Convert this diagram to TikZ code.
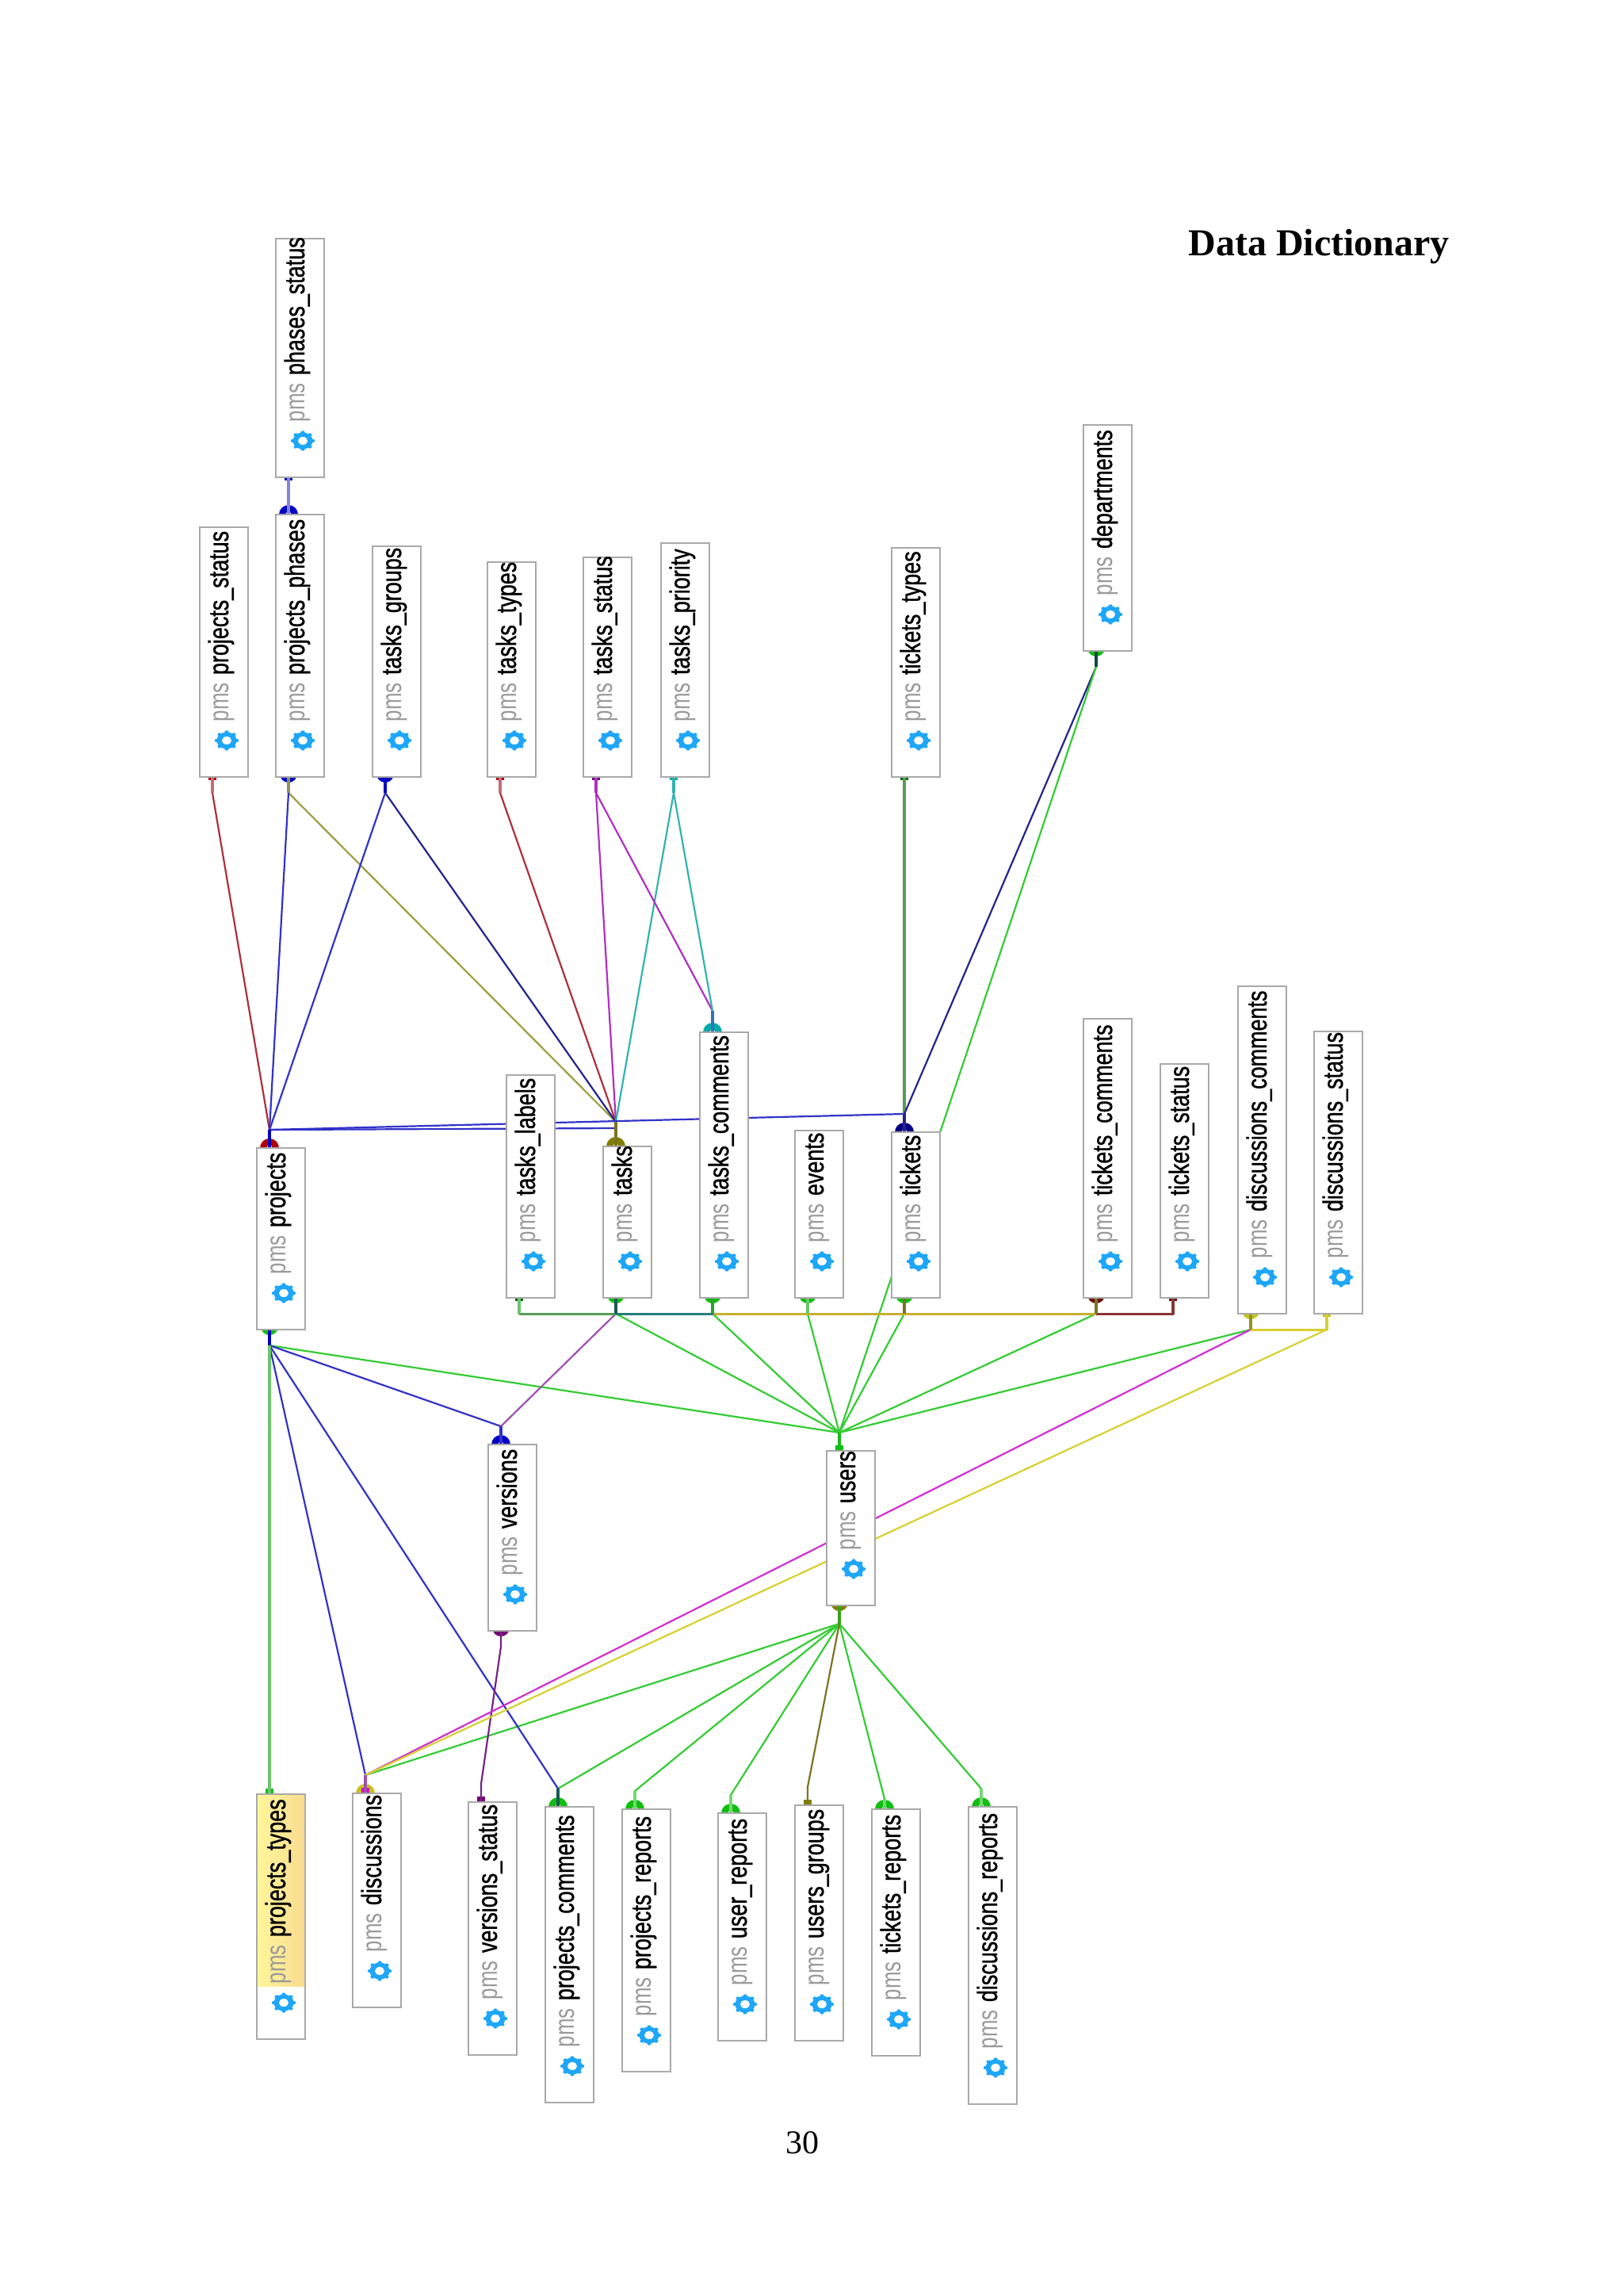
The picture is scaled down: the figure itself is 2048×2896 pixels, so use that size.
\documentclass[tikz,border=0pt]{standalone}
\usepackage{fontspec}
\usetikzlibrary{backgrounds}
\newfontfamily\tblpms[FakeStretch=0.74]{Liberation Sans}
\newfontfamily\tblname[FakeStretch=0.77,FakeBold=1]{Liberation Sans}
\newfontfamily\pageserif{Liberation Serif}

\definecolor{boxgray}{HTML}{A9A9A9}
\definecolor{pmsgray}{HTML}{9A9A9A}
\definecolor{gearblue}{HTML}{1EA6F8}
\definecolor{wgreen}{HTML}{33CC33}
\definecolor{wpale}{HTML}{6CC46C}
\definecolor{wblue}{HTML}{3232C8}
\definecolor{wnavy}{HTML}{24248C}
\definecolor{wred}{HTML}{AE2F3C}
\definecolor{wolive}{HTML}{9AA040}
\definecolor{wmag}{HTML}{B030C0}
\definecolor{wteal}{HTML}{30B4B0}
\definecolor{wbrown}{HTML}{8A3434}
\definecolor{wpurple}{HTML}{A050B0}
\definecolor{wdpurple}{HTML}{742484}
\definecolor{wpink}{HTML}{D030D0}
\definecolor{wyellow}{HTML}{D8D030}
\definecolor{wmustard}{HTML}{C8B030}
\definecolor{wkhaki}{HTML}{7C7420}
% the round ends are purer than the lines
\definecolor{dgreen}{HTML}{12BE12}
\definecolor{dblue}{HTML}{0000C4}
\definecolor{dnavy}{HTML}{000080}
\definecolor{dred}{HTML}{B00000}
\definecolor{dolive}{HTML}{808000}
\definecolor{dteal}{HTML}{00AAAA}
\definecolor{dmaroon}{HTML}{6E0E0E}
\definecolor{dyellow}{HTML}{C4C41C}
\definecolor{dpurple}{HTML}{740074}
\definecolor{dpink}{HTML}{E000C8}
\definecolor{typesleft}{HTML}{FFF59A}
\definecolor{typesright}{HTML}{F9DC90}

\tikzset{
  tablebox/.style={draw=boxgray, line width=2.2pt, fill=white, inner sep=0pt, outer sep=0pt, minimum width=61pt, anchor=north west, xshift=1pt},
  tablelabel/.style={rotate=90, anchor=base west, inner sep=0pt, outer sep=0pt, font=\fontsize{35}{40}\selectfont},
  wire/.style={line width=2.2pt, line join=round},
  wirefat/.style={line width=4pt},
  gearicon/.pic={
    \fill[gearblue] (0,0) circle (10.5pt);
    \foreach \a in {0,45,...,315} \fill[gearblue] (\a:10.5pt) circle (2.2pt);
    \fill[white] (0,0) circle (5pt);
  },
  dottop/.pic={\fill (0,0) circle (12pt); \fill[white] (0,0) circle (3.5pt);},
  dotbot/.pic={\fill (0,4pt) circle (11pt);},
  ticktop/.pic={\fill (-5pt,0) rectangle (5pt,7pt);},
  tickbot/.pic={\fill (-5pt,0) rectangle (5pt,-3.5pt);},
}

% box and its four ports
\newcommand{\dbbox}[4]{
  \node[tablebox, minimum height=#4pt-#3pt] (#1) at (#2,#3) {};
  \coordinate (#1-t) at ([xshift=16pt]#1.north west);
  \coordinate (#1-tj) at ([xshift=16pt,yshift=23pt]#1.north west);
  \coordinate (#1-b) at ([xshift=16pt]#1.south west);
  \coordinate (#1-bj) at ([xshift=16pt,yshift=-20pt]#1.south west);
}
\newcommand{\dblabel}[2]{
  \pic[xscale=1.2] at ([xshift=34pt,yshift=46pt]#1.south west) {gearicon};
  \node[tablelabel] (#1-label) at ([xshift=36pt,yshift=70pt]#1.south west) {{\tblpms\color{pmsgray}pms}\hspace{10pt}{\tblname #2}};
}
\newcommand{\dbtable}[5]{\dbbox{#1}{#2}{#3}{#4}\dblabel{#1}{#5}}
\newcommand{\link}[3]{\draw[wire,#1] (#2) -- (#2j) -- (#3j) -- (#3);}

\begin{document}
\begin{tikzpicture}[x=1pt,y=-1pt]
  \useasboundingbox (0,0) rectangle (2048,2896);

  \node[font=\pageserif\bfseries\fontsize{48}{54}\selectfont, inner sep=0pt] (title) at (1664,311) {Data Dictionary};
  \node[font=\pageserif\fontsize{42}{48}\selectfont, inner sep=0pt] (pageno) at (1012,2703) {30};

  % top row
  \dbtable{phases_status}{347}{301}{602}{phases\_status}
  \dbtable{projects_status}{251}{665}{980}{projects\_status}
  \dbtable{projects_phases}{347}{649}{980}{projects\_phases}
  \dbtable{tasks_groups}{469}{689}{980}{tasks\_groups}
  \dbtable{tasks_types}{614}{709}{980}{tasks\_types}
  \dbtable{tasks_status}{735}{703}{980}{tasks\_status}
  \dbtable{tasks_priority}{833}{685}{980}{tasks\_priority}
  \dbtable{tickets_types}{1124}{691}{980}{tickets\_types}
  \dbtable{departments}{1366}{536}{821}{departments}
  % middle row
  \dbtable{projects}{323}{1448}{1677}{projects}
  \dbtable{tasks_labels}{638}{1356}{1637}{tasks\_labels}
  \dbtable{tasks}{760}{1446}{1637}{tasks}
  \dbtable{tasks_comments}{882}{1302}{1637}{tasks\_comments}
  \dbtable{events}{1002}{1426}{1637}{events}
  \dbtable{tickets}{1124}{1428}{1637}{tickets}
  \dbtable{tickets_comments}{1366}{1285}{1637}{tickets\_comments}
  \dbtable{tickets_status}{1463}{1342}{1637}{tickets\_status}
  \dbtable{discussions_comments}{1561}{1244}{1657}{discussions\_comments}
  \dbtable{discussions_status}{1657}{1301}{1657}{discussions\_status}
  \dbtable{versions}{615}{1822}{2057}{versions}
  \dbtable{users}{1042}{1830}{2025}{users}
  % bottom row
  \dbbox{projects_types}{323}{2263}{2572}
  \shade[left color=typesleft, right color=typesright] (325,2264) rectangle (384,2505);
  \dblabel{projects_types}{projects\_types}
  \dbtable{discussions}{444}{2262}{2532}{discussions}
  \dbtable{versions_status}{590}{2273}{2592}{versions\_status}
  \dbtable{projects_comments}{687}{2279}{2652}{projects\_comments}
  \dbtable{projects_reports}{784}{2282}{2613}{projects\_reports}
  \dbtable{user_reports}{905}{2287}{2574}{user\_reports}
  \dbtable{users_groups}{1002}{2277}{2574}{users\_groups}
  \dbtable{tickets_reports}{1099}{2282}{2593}{tickets\_reports}
  \dbtable{discussions_reports}{1221}{2279}{2654}{discussions\_reports}

  % stubs that differ
  \coordinate (tasks-tj) at ([yshift=31pt]tasks-t);
  \coordinate (tasks-tk) at ([yshift=23pt]tasks-t);
  \coordinate (tasks_comments-tj) at ([yshift=27pt]tasks_comments-t);
  \coordinate (tickets_reports-tj) at ([yshift=13pt]tickets_reports-t);
  \coordinate (users-bj) at ([yshift=-23pt]users-b);

  \begin{scope}[on background layer]
    % ends on the boxes
    \foreach \p/\c in {projects_phases/dblue, projects/dred, tasks/dolive, tasks_comments/dteal, tickets/dnavy, versions/dblue, discussions/dyellow, projects_comments/dgreen, projects_reports/dgreen, user_reports/dgreen, tickets_reports/dgreen, discussions_reports/dgreen}
      {\pic[color=\c] at (\p-t) {dottop};}
    \foreach \p/\c in {projects_phases/dblue, tasks_groups/dblue, departments/dgreen, tasks/dgreen, tasks_comments/dgreen, events/dgreen, tickets/dgreen, tickets_comments/dmaroon, discussions_comments/dyellow, projects/dgreen, users/dolive, versions/dpurple}
      {\pic[color=\c] at (\p-b) {dotbot};}
    \foreach \p/\c in {phases_status/dblue, projects_status/dred, tasks_types/dred, tasks_status/dpurple, tasks_priority/dteal, tickets_types/green!40!black, tasks_labels/green!40!black, tickets_status/dmaroon, discussions_status/dyellow}
      {\pic[color=\c] at (\p-b) {tickbot};}
    \foreach \p/\c in {projects_types/dgreen, versions_status/dpurple, users_groups/dolive, discussions/dpink, users/dgreen}
      {\pic[color=\c] at (\p-t) {ticktop};}

    % upper half
    \draw[wire,wblue!60,wirefat] (phases_status-b) -- (projects_phases-t);
    \link{wred}{projects_status-b}{projects-t}
    \link{wred}{tasks_types-b}{tasks-t}
    \link{wolive}{projects_phases-b}{tasks-t}
    \link{wnavy}{tasks_groups-b}{tasks-t}
    \foreach \from in {projects_phases,tasks_groups} {\link{wblue}{\from-b}{projects-t}}
    \foreach \to in {tasks-t,tasks_comments-t} {
      \link{wmag}{tasks_status-b}{\to}
      \link{wteal}{tasks_priority-b}{\to}
    }
    \draw[wire,wblue] (projects-t) -- (projects-tj) -- (tasks-tk) -- (tasks-t);
    \link{wblue}{projects-t}{tickets-t}
    \draw[wire,wpale!80!black,wirefat] (tickets_types-b) -- (tickets-t);
    \link{wnavy}{departments-b}{tickets-t}

    % many to users
    \foreach \from in {departments,projects,tasks,tasks_comments,events,tickets,tickets_comments,discussions_comments}
      {\link{wgreen}{\from-b}{users-t}}
    \foreach \to in {discussions,projects_comments,projects_reports,user_reports,tickets_reports,discussions_reports}
      {\link{wgreen}{users-b}{\to-t}}
    \link{wkhaki}{users-b}{users_groups-t}

    % from projects downwards
    \foreach \to in {versions,discussions,projects_comments} {\link{wblue}{projects-b}{\to-t}}
    \draw[wire,wpale,wirefat] (projects-b) -- (projects_types-t);
    \link{wpurple}{tasks-b}{versions-t}
    \link{wdpurple}{versions-b}{versions_status-t}
    \link{wpink}{discussions_comments-b}{discussions-t}
    \link{wyellow}{discussions_status-b}{discussions-t}
    \draw[wire,wyellow,line width=3pt] (discussions_comments-b) -- (discussions_comments-bj) -- (discussions_status-bj) -- (discussions_status-b);

    % the long row under the middle boxes
    \draw[wire,wbrown,line width=3pt] (tickets-b) -- (tickets-bj) -- (tickets_status-bj) -- (tickets_status-b);
    \draw[wire,wmustard,line width=3pt] (tasks-bj) -- (tickets_comments-bj);
    \draw[wire,wpale!80!black,line width=3pt] (tasks_labels-b) -- (tasks_labels-bj) -- (tasks-bj);
    \draw[wire,wteal!70!black,line width=3pt] (tasks-b) -- (tasks-bj) -- (tasks_comments-bj) -- (tasks_comments-b);

    % the short thick pieces at the boxes, where the colours mix
    \foreach \p/\c in {tasks-t/wkhaki, tasks_comments-t/wteal!50!wblue, tickets-t/wnavy, projects-t/dblue, versions-t/wblue, users-t/dgreen, discussions-t/wpurple, projects_comments-t/wteal!50!black, projects_phases-b/wolive!60!gray, tasks_groups-b/dblue, tasks_status-b/wmag, tasks_priority-b/wteal, projects_status-b/wred!70, tasks_types-b/wred!70, departments-b/wteal!40!black, projects-b/dblue, users-b/wkhaki!40!dgreen, tasks-b/wteal!50!black, tasks_comments-b/wgreen!80!black, events-b/wpale, tickets-b/wkhaki, tickets_comments-b/wkhaki, discussions_comments-b/wkhaki!70!wyellow, discussions_status-b/wyellow, tasks_labels-b/wpale, tickets_status-b/wbrown, projects_reports-t/wgreen!70, discussions_reports-t/wgreen!70, user_reports-t/wgreen!70, tickets_reports-t/wgreen!70}
      {\draw[wirefat,\c] (\p) -- (\p j);}
  \end{scope}
\end{tikzpicture}
\end{document}
